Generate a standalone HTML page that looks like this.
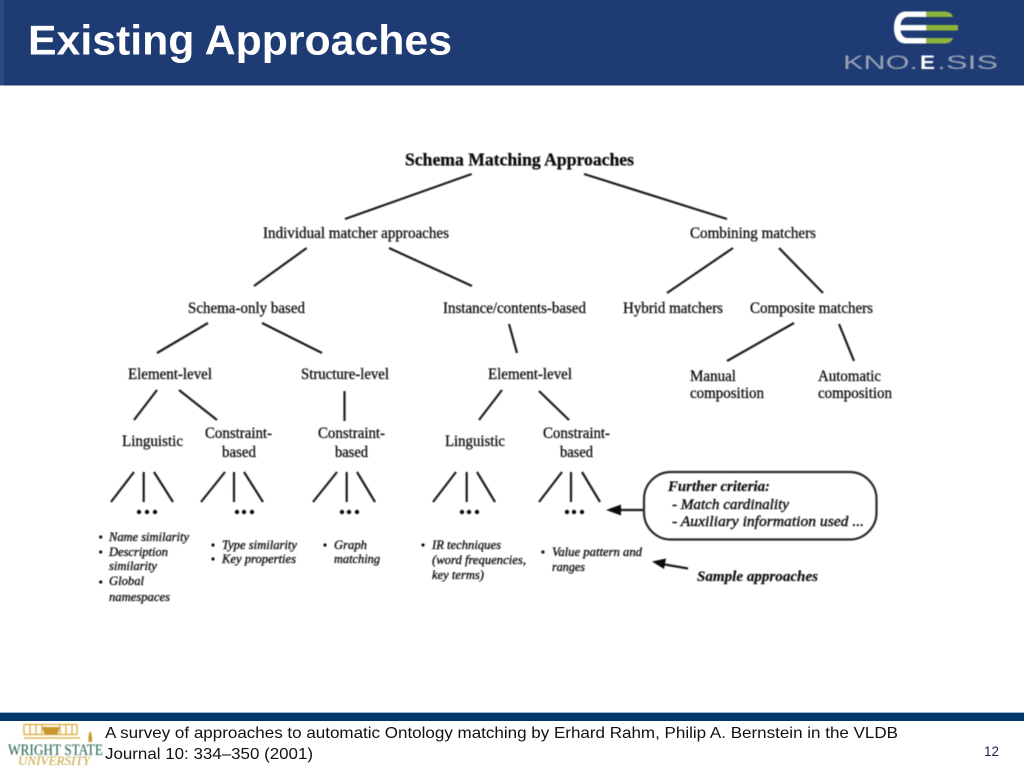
<!DOCTYPE html>
<html lang="en">
<head>
<meta charset="utf-8">
<title>Existing Approaches</title>
<style>
html,body{margin:0;padding:0;background:#fff;width:1024px;height:768px;overflow:hidden}
svg{display:block}
.d text{font-family:"Liberation Serif",serif;fill:#111;font-size:15.5px;stroke:#111;stroke-width:.3px}
.d text.b{font-weight:bold;font-size:17.5px}
.d text.i{font-style:italic;font-size:13px;stroke-width:.35px}
.d text.bi{font-style:italic;font-weight:bold;font-size:15px;stroke-width:.2px}
.d text.m{font-style:italic;font-size:14.5px;stroke-width:.4px}
.l line{stroke:#1c1c1c;stroke-width:2.200;stroke-linecap:butt}
.f{font-family:"Liberation Sans",sans-serif;font-size:16px;fill:#111}
</style>
</head>
<body>
<svg width="1024" height="768" viewBox="0 0 1024 768" xmlns="http://www.w3.org/2000/svg">
<defs>
<filter id="s" x="-2%" y="-2%" width="104%" height="104%"><feGaussianBlur stdDeviation="0.45"/></filter>
<filter id="s2" x="-5%" y="-5%" width="110%" height="110%"><feGaussianBlur stdDeviation="0.5"/></filter>
</defs>
<rect width="1024" height="768" fill="#fff"/>
<rect x="0" y="0" width="1024" height="85.500" fill="#1f3b73"/>
<rect x="0" y="0" width="4" height="85.500" fill="#2c4a86"/>
<text x="28" y="54.500" font-family="'Liberation Sans',sans-serif" font-size="42" font-weight="bold" fill="#fff" textLength="424" lengthAdjust="spacingAndGlyphs">Existing Approaches</text>

<g filter="url(#s2)">
<path d="M926 11.500 H906 C897 11.500 894 20 894 28 C894 36 897 43.500 906 43.500 H926 V38 H908 C903 38 901 34 900.500 30.500 H926 V25 H900.500 C901 21 903 17 908 17 H926Z" fill="#fff"/>
<path d="M926 11.500 H944 C950 11.500 952 14 953 17 H926Z M926 25 H958 V30.500 H926Z M926 38 H953 C952 41 950 43.500 944 43.500 H926Z" fill="#8db53c"/>
<text x="843" y="69" font-family="'Liberation Sans',sans-serif" font-size="19.500" fill="#98a1b3" textLength="75" lengthAdjust="spacingAndGlyphs">KNO.</text>
<text x="920" y="69" font-family="'Liberation Sans',sans-serif" font-size="19.500" font-weight="bold" fill="#fff" textLength="15" lengthAdjust="spacingAndGlyphs">E</text>
<text x="937" y="69" font-family="'Liberation Sans',sans-serif" font-size="19.500" fill="#98a1b3" textLength="61" lengthAdjust="spacingAndGlyphs">.SIS</text>
</g>

<g class="d" filter="url(#s)">
<g class="l">
<line x1="471.700" y1="174" x2="345" y2="219"/>
<line x1="584" y1="174" x2="727" y2="219"/>
<line x1="306.700" y1="248" x2="254" y2="286"/>
<line x1="389" y1="248" x2="472" y2="286"/>
<line x1="733" y1="248" x2="667" y2="293"/>
<line x1="779" y1="248" x2="823" y2="293"/>
<line x1="208" y1="323" x2="157" y2="353"/>
<line x1="262" y1="323" x2="322" y2="353"/>
<line x1="509" y1="324" x2="517" y2="353"/>
<line x1="794" y1="323" x2="727" y2="361"/>
<line x1="839" y1="324" x2="854" y2="361"/>
<line x1="157" y1="390" x2="134" y2="420"/>
<line x1="179" y1="390" x2="217" y2="420"/>
<line x1="344.500" y1="391" x2="344.500" y2="421"/>
<line x1="502" y1="390" x2="479" y2="420"/>
<line x1="539" y1="391" x2="569" y2="420"/>

<line x1="134" y1="472" x2="111" y2="502"/>
<line x1="143.700" y1="472" x2="143.700" y2="502"/>
<line x1="154" y1="472" x2="173" y2="502"/>
<line x1="225" y1="472" x2="201" y2="502"/>
<line x1="234" y1="472" x2="234" y2="502"/>
<line x1="244" y1="472" x2="263" y2="502"/>
<line x1="337" y1="472" x2="313" y2="502"/>
<line x1="346.700" y1="472" x2="346.700" y2="502"/>
<line x1="357" y1="472" x2="375" y2="502"/>
<line x1="456" y1="472" x2="433" y2="502"/>
<line x1="466.700" y1="472" x2="466.700" y2="502"/>
<line x1="477" y1="472" x2="495" y2="502"/>
<line x1="562" y1="472" x2="539" y2="502"/>
<line x1="571" y1="472" x2="571" y2="502"/>
<line x1="582" y1="472" x2="600" y2="502"/>
<line x1="643" y1="510" x2="618" y2="510"/>
<line x1="688" y1="568.500" x2="662" y2="564"/>
</g>
<g fill="#111">
<circle cx="139" cy="512" r="2.200"/><circle cx="147" cy="512" r="2.200"/><circle cx="155" cy="512" r="2.200"/>
<circle cx="237" cy="512" r="2.200"/><circle cx="244" cy="512" r="2.200"/><circle cx="252" cy="512" r="2.200"/>
<circle cx="342" cy="512" r="2.200"/><circle cx="349" cy="512" r="2.200"/><circle cx="357" cy="512" r="2.200"/>
<circle cx="462" cy="512" r="2.200"/><circle cx="469" cy="512" r="2.200"/><circle cx="477" cy="512" r="2.200"/>
<circle cx="567" cy="512" r="2.200"/><circle cx="574" cy="512" r="2.200"/><circle cx="582" cy="512" r="2.200"/>
<circle cx="100.700" cy="537" r="1.600"/><circle cx="100.700" cy="552" r="1.600"/><circle cx="100.700" cy="582" r="1.600"/>
<circle cx="213" cy="545" r="1.600"/><circle cx="213" cy="559" r="1.600"/>
<circle cx="325" cy="545" r="1.600"/>
<circle cx="423" cy="545" r="1.600"/>
<circle cx="543" cy="552" r="1.600"/>
<path d="M606 510 L621 504.500 V515.500Z"/>
<path d="M652 561.500 L666 558.500 L664 569Z"/>
</g>
<rect x="644" y="472" width="232.500" height="67.500" rx="27" ry="27" fill="none" stroke="#2a2a2a" stroke-width="2.200"/>

<text x="405" y="165.500" class="b" textLength="229" lengthAdjust="spacingAndGlyphs">Schema Matching Approaches</text>
<text x="263" y="238" textLength="186" lengthAdjust="spacingAndGlyphs">Individual matcher approaches</text>
<text x="690" y="238" textLength="126" lengthAdjust="spacingAndGlyphs">Combining matchers</text>
<text x="188" y="313" textLength="117" lengthAdjust="spacingAndGlyphs">Schema-only based</text>
<text x="443" y="313" textLength="143" lengthAdjust="spacingAndGlyphs">Instance/contents-based</text>
<text x="623" y="313" textLength="100" lengthAdjust="spacingAndGlyphs">Hybrid matchers</text>
<text x="750" y="313" textLength="123" lengthAdjust="spacingAndGlyphs">Composite matchers</text>
<text x="128" y="379" textLength="84" lengthAdjust="spacingAndGlyphs">Element-level</text>
<text x="301" y="379" textLength="88" lengthAdjust="spacingAndGlyphs">Structure-level</text>
<text x="488" y="379" textLength="84" lengthAdjust="spacingAndGlyphs">Element-level</text>
<text x="690" y="381" textLength="46" lengthAdjust="spacingAndGlyphs">Manual</text>
<text x="690" y="398" textLength="74" lengthAdjust="spacingAndGlyphs">composition</text>
<text x="818" y="381" textLength="63" lengthAdjust="spacingAndGlyphs">Automatic</text>
<text x="818" y="398" textLength="74" lengthAdjust="spacingAndGlyphs">composition</text>
<text x="122" y="446" textLength="61" lengthAdjust="spacingAndGlyphs">Linguistic</text>
<text x="205" y="438" textLength="67" lengthAdjust="spacingAndGlyphs">Constraint-</text>
<text x="222" y="457" textLength="34" lengthAdjust="spacingAndGlyphs">based</text>
<text x="318" y="438" textLength="67" lengthAdjust="spacingAndGlyphs">Constraint-</text>
<text x="335" y="457" textLength="33" lengthAdjust="spacingAndGlyphs">based</text>
<text x="445" y="446" textLength="60" lengthAdjust="spacingAndGlyphs">Linguistic</text>
<text x="543" y="438" textLength="67" lengthAdjust="spacingAndGlyphs">Constraint-</text>
<text x="560" y="457" textLength="33" lengthAdjust="spacingAndGlyphs">based</text>

<text x="109" y="541" class="i" textLength="80" lengthAdjust="spacingAndGlyphs">Name similarity</text>
<text x="109" y="556" class="i" textLength="59" lengthAdjust="spacingAndGlyphs">Description</text>
<text x="109" y="570" class="i" textLength="48" lengthAdjust="spacingAndGlyphs">similarity</text>
<text x="109" y="585" class="i" textLength="35" lengthAdjust="spacingAndGlyphs">Global</text>
<text x="109" y="601" class="i" textLength="61" lengthAdjust="spacingAndGlyphs">namespaces</text>
<text x="222" y="549" class="i" textLength="75" lengthAdjust="spacingAndGlyphs">Type similarity</text>
<text x="222" y="563" class="i" textLength="74" lengthAdjust="spacingAndGlyphs">Key properties</text>
<text x="334" y="549" class="i" textLength="33" lengthAdjust="spacingAndGlyphs">Graph</text>
<text x="334" y="563" class="i" textLength="46" lengthAdjust="spacingAndGlyphs">matching</text>
<text x="432" y="549" class="i" textLength="69" lengthAdjust="spacingAndGlyphs">IR techniques</text>
<text x="432" y="564" class="i" textLength="94" lengthAdjust="spacingAndGlyphs">(word frequencies,</text>
<text x="432" y="579" class="i" textLength="52" lengthAdjust="spacingAndGlyphs">key terms)</text>
<text x="552" y="556" class="i" textLength="90" lengthAdjust="spacingAndGlyphs">Value pattern and</text>
<text x="552" y="571" class="i" textLength="33" lengthAdjust="spacingAndGlyphs">ranges</text>

<text x="668" y="491" class="bi" textLength="102" lengthAdjust="spacingAndGlyphs">Further criteria:</text>
<text x="672" y="509" class="m" textLength="117" lengthAdjust="spacingAndGlyphs">- Match cardinality</text>
<text x="672" y="526" class="m" textLength="192" lengthAdjust="spacingAndGlyphs">- Auxiliary information used  ...</text>
<text x="697" y="581" class="bi" textLength="121" lengthAdjust="spacingAndGlyphs">Sample approaches</text>
</g>

<rect x="0" y="712" width="1024" height="1.500" fill="#9db4cc"/>
<rect x="0" y="713" width="1024" height="8" fill="#00386e"/>

<g filter="url(#s2)">
<g fill="none" stroke="#d9a93a" stroke-width="1.200">
<rect x="24" y="724.500" width="53" height="10"/>
<path d="M30 725V734M36 725V734M42 725V734M60 725V734M66 725V734M72 725V734"/>
<path d="M24 738H80"/>
</g>
<path d="M42 727H60L57 735H45Z" fill="#c9962a"/>
<path d="M88.500 737 l1 -5 h1.500 l1 5 v5 h-3.500Z" fill="#c9962a"/>
<text x="8" y="755" font-family="'Liberation Serif',serif" font-size="16" fill="#1f5c4a" textLength="95" lengthAdjust="spacingAndGlyphs">WRIGHT STATE</text>
<text x="18" y="765" font-family="'Liberation Serif',serif" font-size="12.500" font-style="italic" fill="#c9a23a" textLength="72" lengthAdjust="spacingAndGlyphs">UNIVERSITY</text>
</g>

<text class="f" x="105" y="738" textLength="793" lengthAdjust="spacingAndGlyphs">A survey of approaches to automatic Ontology matching by Erhard Rahm, Philip A. Bernstein in the VLDB</text>
<text class="f" x="105" y="759" textLength="208" lengthAdjust="spacingAndGlyphs">Journal 10: 334–350 (2001)</text>
<text x="984" y="756" font-family="'Liberation Sans',sans-serif" font-size="13.500" fill="#14284f">12</text>
</svg>
</body>
</html>
